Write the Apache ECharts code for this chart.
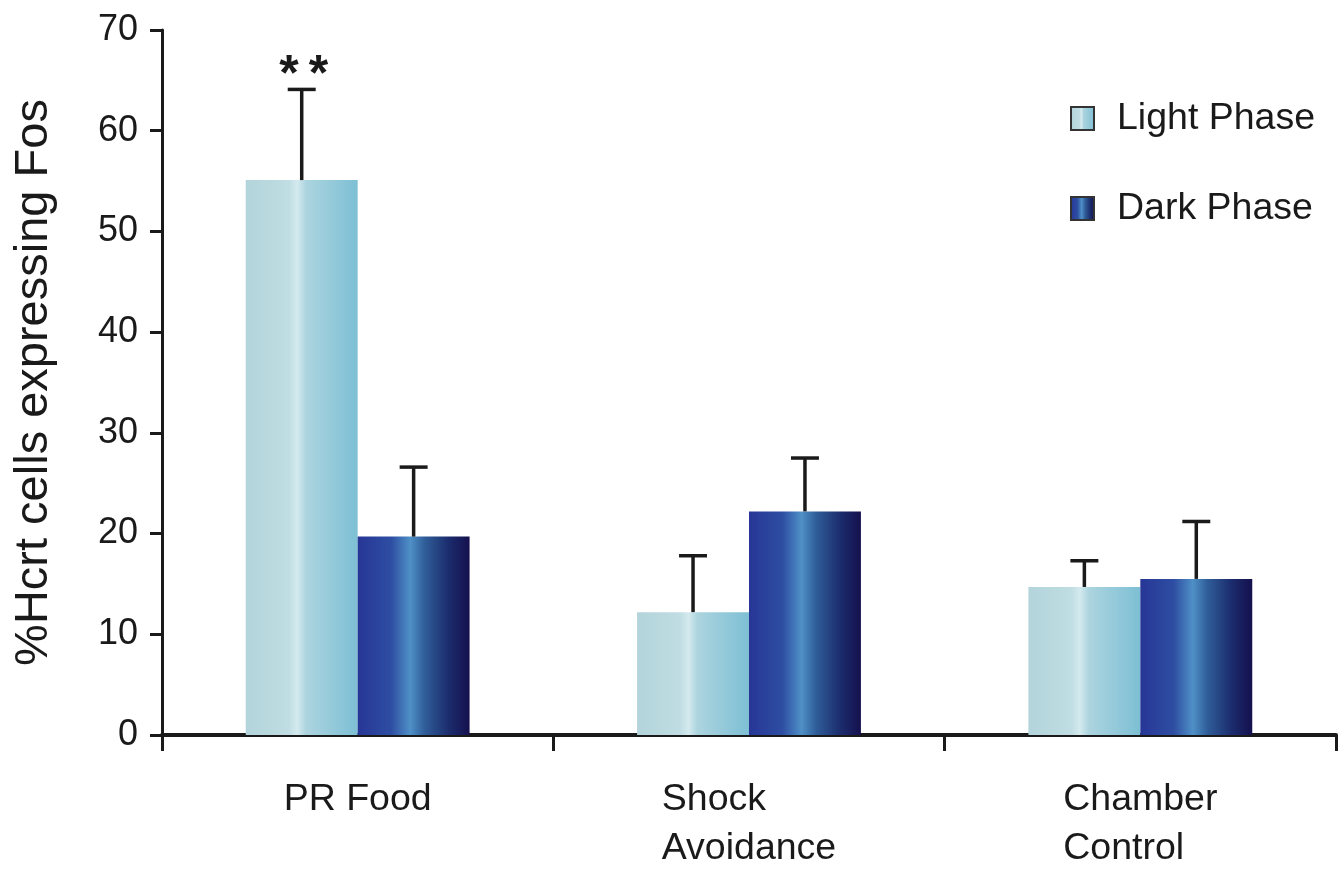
<!DOCTYPE html>
<html>
<head>
<meta charset="utf-8">
<script src="https://cdn.jsdelivr.net/npm/echarts@6/dist/echarts.min.js"></script>
<style>
html,body{margin:0;padding:0;background:#fff;}
#chart{width:1344px;height:873px;}
</style>
</head>
<body>
<div id="chart"></div>
<script>
// ---- data ----
var categories = ['PR Food', 'Shock\nAvoidance', 'Chamber\nControl'];
var seriesNames = ['Light Phase', 'Dark Phase'];
var lightValues = [55.1, 12.2, 14.7];
var lightSem = [9.0, 5.6, 2.6];
var darkValues = [19.7, 22.2, 15.5];
var darkSem = [6.9, 5.3, 5.7];
var significance = ['**', '', ''];
var yTicks = [0, 10, 20, 30, 40, 50, 60, 70];

var FONT = '"Liberation Sans", Arial, Helvetica, sans-serif';
var INK = '#1a1a1a';
var BAR_FRAC = 0.286;

var lightGrad = new echarts.graphic.LinearGradient(0, 0, 1, 0, [
  {offset: 0, color: '#b2d4da'},
  {offset: 0.38, color: '#bfdde3'},
  {offset: 0.46, color: '#d4eaee'},
  {offset: 0.54, color: '#acd4df'},
  {offset: 1, color: '#7dbfd4'}
]);
var darkGrad = new echarts.graphic.LinearGradient(0, 0, 1, 0, [
  {offset: 0, color: '#273696'},
  {offset: 0.3, color: '#2e4ea2'},
  {offset: 0.47, color: '#4f90c7'},
  {offset: 0.6, color: '#2f5d98'},
  {offset: 0.82, color: '#1b2b6c'},
  {offset: 1, color: '#15104e'}
]);

function errData(vals, sems, marks) {
  return vals.map(function (v, i) { return [i, v, v + sems[i], marks ? marks[i] : '']; });
}

function makeErrRender(side) {
  return function (params, api) {
    var cat = api.value(0);
    var top = api.value(1);
    var hi = api.value(2);
    var band = api.size([1, 0])[0];
    var barW = band * BAR_FRAC;
    var p0 = api.coord([cat, top]);
    var p1 = api.coord([cat, hi]);
    var x = p0[0] + side * barW / 2;
    var cap = barW * 0.25;
    var style = {stroke: INK, lineWidth: 3.5};
    var children = [
      {type: 'line', shape: {x1: x, y1: p0[1], x2: x, y2: p1[1]}, style: style},
      {type: 'line', shape: {x1: x - cap / 2, y1: p1[1], x2: x + cap / 2, y2: p1[1]}, style: style}
    ];
    var mark = api.value(3);
    if (mark) {
      children.push({
        type: 'text',
        style: {text: String(mark).split('').join('\u2009'), x: x + 2, y: p1[1] + 12,
          align: 'center', verticalAlign: 'bottom',
          fill: INK, font: 'bold 50px ' + FONT}
      });
    }
    return {type: 'group', children: children};
  };
}

var chart = echarts.init(document.getElementById('chart'));
chart.setOption({
  animation: false,
  backgroundColor: '#ffffff',
  grid: {left: 162, right: 8, top: 30, bottom: 129, containLabel: false},
  legend: {
    orient: 'vertical',
    left: 1070,
    top: 97,
    padding: 0,
    itemWidth: 23,
    itemHeight: 23,
    itemGap: 47,
    icon: 'rect',
    data: seriesNames,
    itemStyle: {borderColor: '#333', borderWidth: 2},
    textStyle: {fontFamily: FONT, fontSize: 37.5, color: INK, lineHeight: 43, padding: [0, 0, 0, 18]}
  },
  xAxis: {
    type: 'category',
    data: categories,
    axisLine: {lineStyle: {color: INK, width: 4}},
    axisTick: {show: true, length: 16, lineStyle: {color: INK, width: 3}},
    axisLabel: {
      margin: 40,
      color: INK,
      fontFamily: FONT,
      fontSize: 37.5,
      lineHeight: 49,
      formatter: function (v) {
        if (v.indexOf('\n') < 0) return v;
        return v.split('\n').map(function (s) { return '{l|' + s + '}'; }).join('\n');
      },
      rich: {l: {align: 'left', fontFamily: FONT, fontSize: 37.5, lineHeight: 49, color: INK}}
    }
  },
  yAxis: {
    type: 'value',
    min: yTicks[0],
    max: yTicks[yTicks.length - 1],
    interval: 10,
    name: '%Hcrt cells expressing Fos',
    nameLocation: 'middle',
    nameGap: 104,
    nameTextStyle: {fontFamily: FONT, fontSize: 47, color: INK},
    splitLine: {show: false},
    axisLine: {show: true, lineStyle: {color: INK, width: 3}},
    axisTick: {show: true, length: 12, lineStyle: {color: INK, width: 3}},
    axisLabel: {margin: 24, color: INK, fontFamily: FONT, fontSize: 36}
  },
  series: [
    {
      name: seriesNames[0], type: 'bar', data: lightValues,
      barWidth: (BAR_FRAC * 100) + '%', barGap: '0%',
      itemStyle: {color: lightGrad}
    },
    {
      name: seriesNames[1], type: 'bar', data: darkValues,
      barWidth: (BAR_FRAC * 100) + '%', barGap: '0%',
      itemStyle: {color: darkGrad}
    },
    {
      type: 'custom', name: 'errLight', z: 5, silent: true,
      renderItem: makeErrRender(-1),
      encode: {x: 0, y: 2},
      data: errData(lightValues, lightSem, significance)
    },
    {
      type: 'custom', name: 'errDark', z: 5, silent: true,
      renderItem: makeErrRender(1),
      encode: {x: 0, y: 2},
      data: errData(darkValues, darkSem, null)
    }
  ]
});
</script>
</body>
</html>
